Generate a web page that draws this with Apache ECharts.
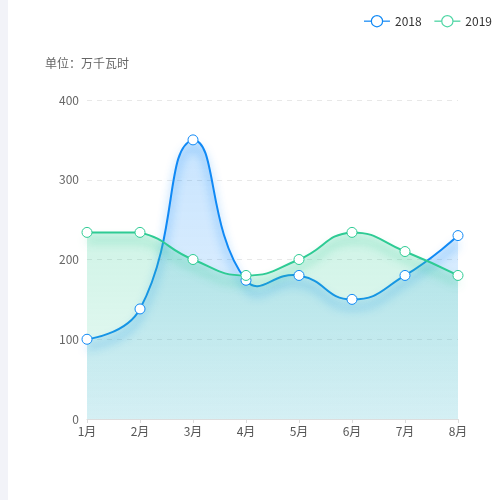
<!DOCTYPE html>
<html>
<head>
<meta charset="utf-8">
<script src="https://cdn.jsdelivr.net/npm/echarts@6/dist/echarts.min.js"></script>
<style>
    html, body { margin: 0; padding: 0; background: #fff; }
    .strip { position: absolute; left: 0; top: 0; width: 8px; height: 500px; background: #f2f3f8; }
    .chart { position: absolute; left: 0; top: 0; width: 500px; height: 500px; }
</style>
</head>
<body>
<div class="strip"></div>
<div class="chart" id="chart"></div>
<script>
var months = ['1月', '2月', '3月', '4月', '5月', '6月', '7月', '8月'];
var names = ['2018', '2019'];
var data2018 = [100, 138, 350, 174, 180, 150, 180, 230];
var data2019 = [234, 234, 200, 180, 200, 234, 210, 180];

var blue = '#1089f5';
var green = '#2ecb94';
var font = 'Noto Sans CJK SC';

var myChart = echarts.init(document.getElementById('chart'));

function area(r, g, b) {
    return new echarts.graphic.LinearGradient(0, 0, 0, 1, [
        { offset: 0, color: 'rgba(' + r + ',' + g + ',' + b + ',0.23)' },
        { offset: 1, color: 'rgba(' + r + ',' + g + ',' + b + ',0.1)' }
    ]);
}

// old style (v4) bezier smoothing, constraint only by the whole bounding box
function smoothPath(pts, smooth) {
    var minX = Infinity, minY = Infinity, maxX = -Infinity, maxY = -Infinity;
    pts.forEach(function (p) {
        minX = Math.min(minX, p[0]); maxX = Math.max(maxX, p[0]);
        minY = Math.min(minY, p[1]); maxY = Math.max(maxY, p[1]);
    });
    function clamp(c) {
        return [Math.min(Math.max(c[0], minX), maxX), Math.min(Math.max(c[1], minY), maxY)];
    }
    var d = 'M' + pts[0][0] + ',' + pts[0][1];
    var cp0 = pts[0].slice();
    for (var i = 1; i < pts.length; i++) {
        var p = pts[i], prev = pts[i - 1], next = pts[i + 1];
        var cp1, nextCp0;
        if (!next) {
            cp1 = p.slice();
            nextCp0 = p.slice();
        } else {
            var vx = next[0] - prev[0], vy = next[1] - prev[1];
            var lenPrev = Math.sqrt(Math.pow(p[0] - prev[0], 2) + Math.pow(p[1] - prev[1], 2));
            var lenNext = Math.sqrt(Math.pow(next[0] - p[0], 2) + Math.pow(next[1] - p[1], 2));
            var ratio = lenNext / (lenNext + lenPrev);
            cp1 = [p[0] - vx * smooth * (1 - ratio), p[1] - vy * smooth * (1 - ratio)];
            nextCp0 = [p[0] + vx * smooth * ratio, p[1] + vy * smooth * ratio];
        }
        var a = clamp(cp0), b = clamp(cp1);
        d += 'C' + a[0] + ',' + a[1] + ',' + b[0] + ',' + b[1] + ',' + p[0] + ',' + p[1];
        cp0 = nextCp0;
    }
    return d;
}

function curveSeries(name, values, color, rgb) {
    return {
        name: name,
        type: 'custom',
        z: 1,
        silent: true,
        data: values.map(function (v, i) { return [i, v]; }),
        renderItem: function (params, api) {
            if (params.dataIndex !== 0) return null;
            var pts = values.map(function (v, i) { return api.coord([i, v]); });
            var base = api.coord([0, 0])[1];
            var line = smoothPath(pts, 0.5);
            var last = pts[pts.length - 1], first = pts[0];
            var areaPath = line + 'L' + last[0] + ',' + base + 'L' + first[0] + ',' + base + 'Z';
            return {
                type: 'group',
                children: [
                    {
                        type: 'path',
                        shape: { pathData: areaPath },
                        style: { fill: area(rgb[0], rgb[1], rgb[2]), stroke: null }
                    },
                    {
                        type: 'path',
                        shape: { pathData: line },
                        style: {
                            fill: null,
                            stroke: color,
                            lineWidth: 2,
                            shadowColor: 'rgba(' + rgb.join(',') + ',0.8)',
                            shadowBlur: 10,
                            shadowOffsetY: 8
                        }
                    }
                ]
            };
        }
    };
}

function pointSeries(name, values, color) {
    return {
        name: name,
        type: 'line',
        z: 3,
        symbol: 'circle',
        symbolSize: 10,
        data: values,
        itemStyle: { color: '#fff', borderColor: color, borderWidth: 1 },
        lineStyle: { width: 0, opacity: 0 }
    };
}

var option = {
    animation: false,
    textStyle: { fontFamily: font },
    legend: {
        top: 10,
        right: 3,
        itemWidth: 26,
        itemHeight: 14,
        itemGap: 12,
        textStyle: { color: '#333', fontSize: 12, fontFamily: font },
        data: [
            {
                name: names[0],
                itemStyle: { color: '#fff', borderColor: blue, borderWidth: 1.2 },
                lineStyle: { color: '#3d9ef7', width: 1.5, opacity: 1 }
            },
            {
                name: names[1],
                itemStyle: { color: '#fff', borderColor: '#4fd6a5', borderWidth: 1.2 },
                lineStyle: { color: '#66dab0', width: 1.5, opacity: 1 }
            }
        ]
    },
    grid: { left: 87, right: 42, top: 100, bottom: 81 },
    xAxis: {
        type: 'category',
        boundaryGap: false,
        data: months,
        axisLine: { lineStyle: { color: '#ddd' } },
        axisTick: { show: true, length: 4, lineStyle: { color: '#ddd' } },
        axisLabel: { color: '#555', fontSize: 12, margin: 6 }
    },
    yAxis: {
        type: 'value',
        min: 0,
        max: 400,
        interval: 100,
        name: '单位：万千瓦时',
        nameGap: 31,
        nameTextStyle: { color: '#666', fontSize: 12 },
        axisLine: { show: false },
        axisTick: { show: false },
        axisLabel: { color: '#666', fontSize: 12, margin: 8 },
        splitLine: { lineStyle: { color: '#e8e8e8', type: [5, 5] } }
    },
    series: [
        pointSeries(names[0], data2018, blue),
        pointSeries(names[1], data2019, green),
        curveSeries(names[0], data2018, blue, [20, 140, 250]),
        curveSeries(names[1], data2019, green, [50, 205, 150])
    ]
};

myChart.setOption(option);
</script>
</body>
</html>
